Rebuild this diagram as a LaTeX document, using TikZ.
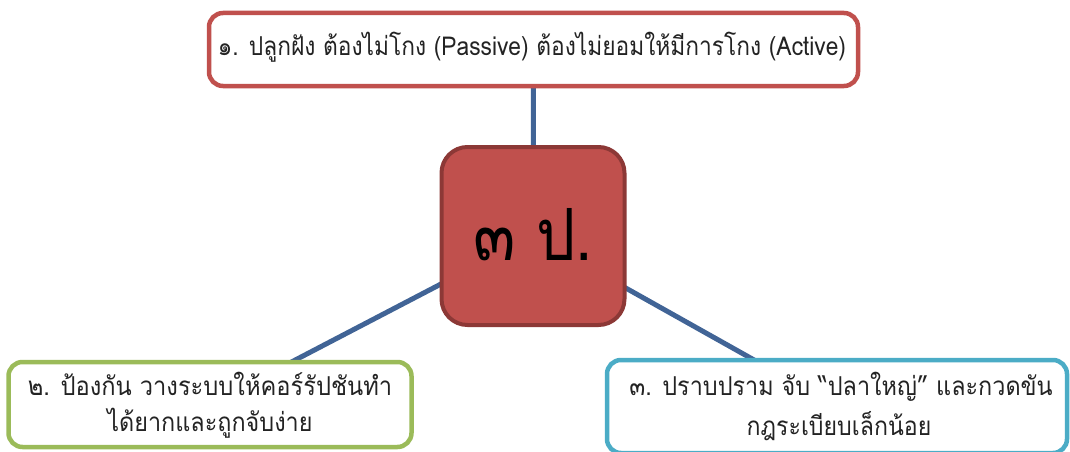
\documentclass[tikz,border=0pt]{standalone}
\usepackage{fontspec}
\newfontfamily\thai[Script=Thai]{Loma}
\definecolor{topred}{RGB}{192,80,77}
\definecolor{darkred}{RGB}{140,56,54}
\definecolor{grn}{RGB}{155,187,89}
\definecolor{cyn}{RGB}{75,172,198}
\definecolor{lnk}{RGB}{65,100,150}
\definecolor{txt}{RGB}{35,35,35}
\pgfdeclarelayer{bg}
\pgfsetlayers{bg,main}
\newcommand{\sq}[2][0.86]{\scalebox{#1}[1]{#2}}
\begin{document}
\begin{tikzpicture}[x=1pt,y=-1pt,
  leaf/.style={draw,line width=4.5pt,rounded corners=14pt,fill=white,inner sep=0pt},
  hub/.style={draw=darkred,fill=topred,line width=4pt,rounded corners=26pt,inner sep=0pt},
  ltxt/.style={inner sep=0pt,text=txt,font=\thai\fontsize{26}{30}\selectfont},
  htxt/.style={inner sep=0pt,text=black,font=\thai\fontsize{72}{80}\selectfont},
  link/.style={draw=lnk,line width=5pt}]
\useasboundingbox (0,0) rectangle (1070,452);
\node[hub,minimum width=183pt,minimum height=178pt] (c) at (533,236) {};
\node[leaf,draw=topred,minimum width=649pt,minimum height=73pt] (t) at (533.5,49.5) {};
\node[leaf,draw=grn,minimum width=403pt,minimum height=85pt] (l) at (210,404.5) {};
\node[leaf,draw=cyn,minimum width=460pt,minimum height=93pt] (r) at (837,406.5) {};
\begin{pgfonlayer}{bg}
\draw[link] (c.center) -- (t.center);
\draw[link] (c.center) -- (l.center);
\draw[link] (c.center) -- (r.center);
\end{pgfonlayer}
\node[htxt] (ct) at (533,235) {\sq{๓ ป.}};
\node[ltxt] (tt) at (532,47) {\sq[0.875]{๑. ปลูกฝัง ต้องไม่โกง (Passive) ต้องไม่ยอมให้มีการโกง (Active)}};
\node[ltxt] (lt1) at (210,384) {\sq[0.91]{๒. ป้องกัน วางระบบให้คอร์รัปชันทำ}};
\node[ltxt] (lt2) at (210,423) {\sq[0.9]{ได้ยากและถูกจับง่าย}};
\node[ltxt] (rt1) at (841,387) {\sq[0.9]{๓. ปราบปราม จับ “ปลาใหญ่” และกวดขัน}};
\node[ltxt] (rt2) at (839,426) {\sq[0.89]{กฎระเบียบเล็กน้อย}};
\end{tikzpicture}
\end{document}
